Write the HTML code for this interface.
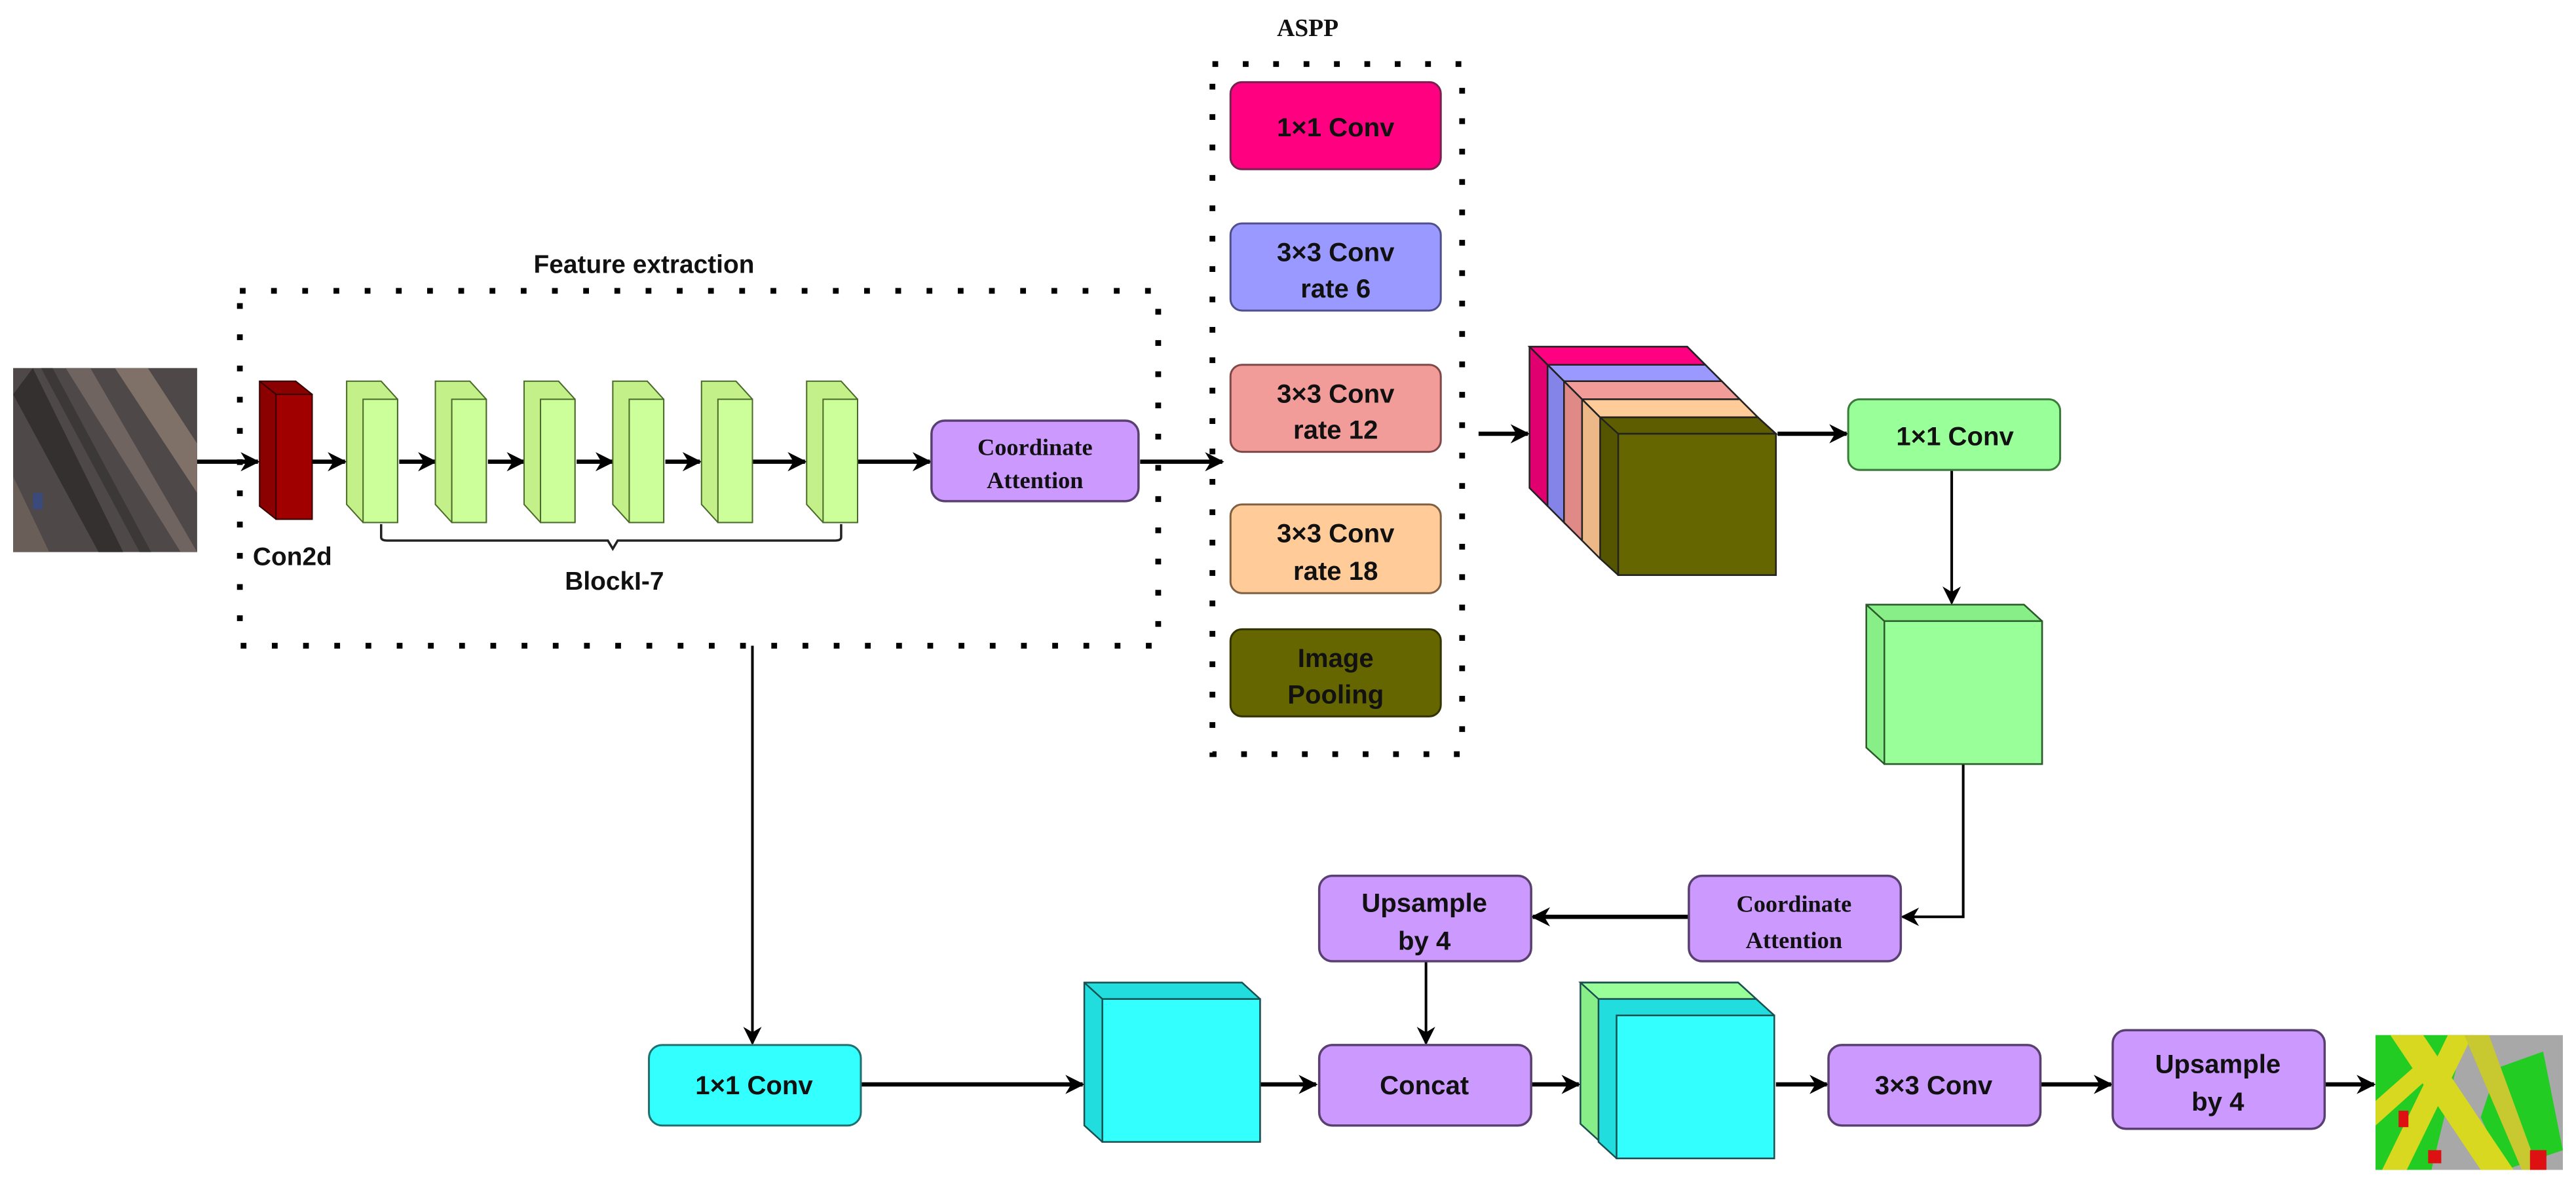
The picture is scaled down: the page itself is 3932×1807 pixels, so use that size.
<!DOCTYPE html>
<html><head><meta charset="utf-8"><style>
html,body{margin:0;padding:0;background:#fff;}
svg{display:block;}
.t{font-family:"Liberation Sans",sans-serif;font-weight:bold;fill:#111;text-anchor:middle;}
.s{font-family:"Liberation Serif",serif;font-weight:bold;fill:#111;text-anchor:middle;}
</style></head><body>
<svg width="3932" height="1807" viewBox="0 0 1568 720.6" preserveAspectRatio="none" xmlns="http://www.w3.org/2000/svg">
<defs>
<marker id="a" viewBox="0 0 10 10" refX="9" refY="5" markerWidth="4.5" markerHeight="4.5" orient="auto" markerUnits="strokeWidth">
<path d="M0,0 L10,5 L0,10 L3,5 z" fill="#000"/></marker>
<marker id="b" viewBox="0 0 10 10" refX="9" refY="5" markerWidth="7" markerHeight="7" orient="auto" markerUnits="strokeWidth">
<path d="M0,0 L10,5 L0,10 L3,5 z" fill="#000"/></marker>
</defs>

<!-- input image -->
<rect x="8" y="224" width="112" height="112" fill="#4e4848"/>
<path d="M8,240 L60,336 L75,336 L20,224 Z" fill="#33302f"/>
<path d="M40,224 L110,336 L120,336 L55,224 Z" fill="#6f6460"/>
<path d="M70,224 L120,300 L120,270 L90,224 Z" fill="#7f7068"/>
<path d="M8,290 L30,336 L8,336 Z" fill="#6a5e58"/>
<path d="M25,224 L85,336 L92,336 L32,224 Z" fill="#3c3838"/>
<rect x="20" y="300" width="6" height="10" fill="#3a4a7a"/>

<!-- feature extraction -->
<text class="t" x="392" y="166" font-size="15.5">Feature extraction</text>
<rect x="146" y="177" width="559" height="216" fill="none" stroke="#000" stroke-width="3.5" stroke-dasharray="3.5 15.5"/>

<g stroke="#000" stroke-width="2.6" fill="none" marker-end="url(#a)">
<line x1="120" y1="281" x2="157" y2="281"/>
<line x1="190" y1="281" x2="210" y2="281"/>
<line x1="243" y1="281" x2="265" y2="281"/>
<line x1="297" y1="281" x2="319" y2="281"/>
<line x1="351" y1="281" x2="373" y2="281"/>
<line x1="405" y1="281" x2="426" y2="281"/>
<line x1="458" y1="281" x2="490" y2="281"/>
<line x1="522" y1="281" x2="566" y2="281"/>
<line x1="694" y1="281" x2="744" y2="281"/>
<line x1="900" y1="264" x2="930" y2="264"/>
<line x1="1082" y1="264" x2="1124" y2="264"/>
<line x1="524" y1="660" x2="659" y2="660"/>
<line x1="767" y1="660" x2="801" y2="660"/>
<line x1="932" y1="660" x2="961" y2="660"/>
<line x1="1081" y1="660" x2="1112" y2="660"/>
<line x1="1242" y1="660" x2="1285" y2="660"/>
<line x1="1415" y1="660" x2="1445" y2="660"/>
<line x1="1028" y1="558" x2="933" y2="558"/>
</g>
<g stroke="#000" stroke-width="1.6" fill="none" marker-end="url(#b)">
<line x1="458" y1="393" x2="458" y2="635"/>
<line x1="1188" y1="286" x2="1188" y2="367"/>
<line x1="868" y1="585" x2="868" y2="635"/>
<polyline points="1195,465 1195,558 1158,558"/>
</g>

<!-- Con2d red -->
<polygon points="158,232 180,232 190,240 190,316 168,316 158,308" fill="#8b0000" stroke="#300" stroke-width="0.8"/>
<rect x="168" y="240" width="22" height="76" fill="#a00000" stroke="#300" stroke-width="0.8"/>
<line x1="158" y1="232" x2="168" y2="240" stroke="#300" stroke-width="0.8"/>
<text class="t" x="178" y="344" font-size="15.5">Con2d</text>

<g stroke="#4a6a2a" stroke-width="0.8">
<polygon points="211,232 232,232 242,243 242,318 221,318 211,307" fill="#c4f08a"/><rect x="221" y="243" width="21" height="75" fill="#ccff99"/>
<polygon points="265,232 286,232 296,243 296,318 275,318 265,307" fill="#c4f08a"/><rect x="275" y="243" width="21" height="75" fill="#ccff99"/>
<polygon points="319,232 340,232 350,243 350,318 329,318 319,307" fill="#c4f08a"/><rect x="329" y="243" width="21" height="75" fill="#ccff99"/>
<polygon points="373,232 394,232 404,243 404,318 383,318 373,307" fill="#c4f08a"/><rect x="383" y="243" width="21" height="75" fill="#ccff99"/>
<polygon points="427,232 448,232 458,243 458,318 437,318 427,307" fill="#c4f08a"/><rect x="437" y="243" width="21" height="75" fill="#ccff99"/>
<polygon points="491,232 512,232 522,243 522,318 501,318 491,307" fill="#c4f08a"/><rect x="501" y="243" width="21" height="75" fill="#ccff99"/>
</g>
<path d="M232,319 L232,327 Q232,329 236,329 L370,329 L373,334 L376,329 L508,329 Q512,329 512,327 L512,319" fill="none" stroke="#222" stroke-width="1.4"/>
<text class="t" x="374" y="359" font-size="15.5">BlockI-7</text>

<rect x="567" y="256" width="126" height="49" rx="8" fill="#cc99ff" stroke="#5a4070" stroke-width="1.4"/>
<text class="s" x="630" y="277" font-size="14.5">Coordinate</text>
<text class="s" x="630" y="297" font-size="14.5">Attention</text>

<text class="s" x="796" y="22" font-size="15">ASPP</text>
<rect x="738" y="39" width="152" height="420" fill="none" stroke="#000" stroke-width="3.5" stroke-dasharray="3.5 15"/>
<g stroke-width="1.2">
<rect x="749" y="50" width="128" height="53" rx="7" fill="#ff0080" stroke="#7a2050"/>
<rect x="749" y="136" width="128" height="53" rx="7" fill="#9999ff" stroke="#505090"/>
<rect x="749" y="222" width="128" height="53" rx="7" fill="#f19c99" stroke="#804848"/>
<rect x="749" y="307" width="128" height="54" rx="7" fill="#ffcc99" stroke="#806040"/>
<rect x="749" y="383" width="128" height="53" rx="7" fill="#666600" stroke="#333300"/>
</g>
<text class="t" x="813" y="83" font-size="16">1×1 Conv</text>
<text class="t" x="813" y="159" font-size="16">3×3 Conv</text><text class="t" x="813" y="181" font-size="16">rate 6</text>
<text class="t" x="813" y="245" font-size="16">3×3 Conv</text><text class="t" x="813" y="267" font-size="16">rate 12</text>
<text class="t" x="813" y="330" font-size="16">3×3 Conv</text><text class="t" x="813" y="353" font-size="16">rate 18</text>
<text class="t" x="813" y="406" font-size="16">Image</text><text class="t" x="813" y="428" font-size="16">Pooling</text>

<g stroke="#222" stroke-width="1">
<g transform="translate(931,211)"><polygon points="0,0 96,0 107,11 107,97 11,97 0,86" fill="#e0006f"/><polygon points="0,0 96,0 107,11 11,11" fill="#ff0080"/><line x1="0" y1="0" x2="11" y2="11"/></g>
<g transform="translate(942,222)"><polygon points="0,0 96,0 107,11 107,97 11,97 0,86" fill="#8484e8"/><polygon points="0,0 96,0 107,11 11,11" fill="#9999ff"/><line x1="0" y1="0" x2="11" y2="11"/></g>
<g transform="translate(952,232)"><polygon points="0,0 96,0 107,11 107,97 11,97 0,86" fill="#e08a88"/><polygon points="0,0 96,0 107,11 11,11" fill="#f19c99"/><line x1="0" y1="0" x2="11" y2="11"/></g>
<g transform="translate(963,243)"><polygon points="0,0 96,0 107,11 107,97 11,97 0,86" fill="#ecb888"/><polygon points="0,0 96,0 107,11 11,11" fill="#ffcc99"/><line x1="0" y1="0" x2="11" y2="11"/></g>
<g transform="translate(974,254)"><polygon points="0,0 96,0 107,10 107,96 11,96 0,86" fill="#555500"/><polygon points="0,0 96,0 107,10 11,10" fill="#5e5e00"/><rect x="11" y="10" width="96" height="86" fill="#666600"/></g>
</g>

<rect x="1125" y="243" width="129" height="43" rx="7" fill="#99ff99" stroke="#3a7a3a" stroke-width="1.2"/>
<text class="t" x="1190" y="271" font-size="16">1×1 Conv</text>

<g stroke="#2a5a2a" stroke-width="1">
<polygon points="1136,368 1232,368 1243,378 1243,465 1147,465 1136,455" fill="#88ee88"/>
<rect x="1147" y="378" width="96" height="87" fill="#99ff99"/>
<line x1="1136" y1="368" x2="1147" y2="378"/>
</g>

<rect x="1028" y="533" width="129" height="52" rx="8" fill="#cc99ff" stroke="#5a4070" stroke-width="1.4"/>
<text class="s" x="1092" y="555" font-size="14.5">Coordinate</text>
<text class="s" x="1092" y="577" font-size="14.5">Attention</text>

<rect x="803" y="533" width="129" height="52" rx="8" fill="#cc99ff" stroke="#5a4070" stroke-width="1.4"/>
<text class="t" x="867" y="555" font-size="16">Upsample</text>
<text class="t" x="867" y="578" font-size="16">by 4</text>

<rect x="395" y="636" width="129" height="49" rx="8" fill="#33ffff" stroke="#207070" stroke-width="1.2"/>
<text class="t" x="459" y="666" font-size="16">1×1 Conv</text>

<g stroke="#1a5050" stroke-width="1">
<polygon points="660,598 756,598 767,608 767,695 671,695 660,685" fill="#22dddd"/>
<rect x="671" y="608" width="96" height="87" fill="#33ffff"/>
<line x1="660" y1="598" x2="671" y2="608"/>
</g>

<rect x="803" y="636" width="129" height="49" rx="8" fill="#cc99ff" stroke="#5a4070" stroke-width="1.4"/>
<text class="t" x="867" y="666" font-size="16">Concat</text>

<g stroke="#1a5050" stroke-width="1">
<polygon points="962,598 1058,598 1069,608 1069,694 973,694 962,684" fill="#88ee88"/>
<polygon points="962,598 1058,598 1069,608 973,608" fill="#99ff99"/>
<polygon points="973,608 1069,608 1080,618 1080,705 984,705 973,695" fill="#22dddd"/>
<rect x="984" y="618" width="96" height="87" fill="#33ffff"/>
</g>

<rect x="1113" y="636" width="129" height="49" rx="8" fill="#cc99ff" stroke="#5a4070" stroke-width="1.4"/>
<text class="t" x="1177" y="666" font-size="16">3×3 Conv</text>

<rect x="1286" y="627" width="129" height="60" rx="8" fill="#cc99ff" stroke="#5a4070" stroke-width="1.4"/>
<text class="t" x="1350" y="653" font-size="16">Upsample</text>
<text class="t" x="1350" y="676" font-size="16">by 4</text>

<rect x="1446" y="630" width="114" height="82" fill="#a8a8a8"/>
<polygon points="1446,630 1500,630 1480,712 1446,712" fill="#22cc22"/>
<polygon points="1520,650 1548,640 1560,700 1525,712 1510,680" fill="#22cc22"/>
<polygon points="1455,630 1475,630 1530,712 1510,712" fill="#d8d820"/>
<polygon points="1490,630 1505,630 1465,712 1450,712" fill="#d8d820"/>
<polygon points="1500,630 1515,630 1545,712 1535,712" fill="#c8c830"/>
<polygon points="1446,670 1480,640 1485,650 1446,685" fill="#d8d820"/>
<rect x="1460" y="676" width="6" height="10" fill="#dd1111"/>
<rect x="1478" y="700" width="8" height="8" fill="#dd1111"/>
<rect x="1540" y="700" width="10" height="12" fill="#dd1111"/>
</svg>
</body></html>
